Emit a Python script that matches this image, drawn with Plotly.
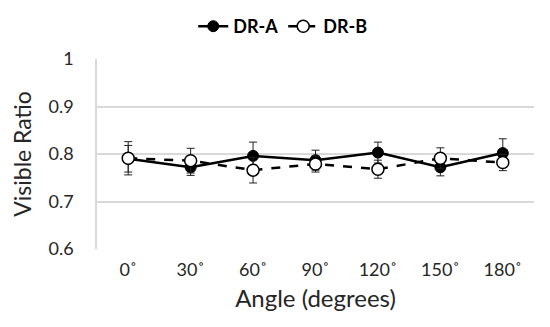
import plotly.graph_objects as go

angles = ["0˚", "30˚", "60˚", "90˚", "120˚", "150˚", "180˚"]
dr_a = [0.790, 0.772, 0.796, 0.787, 0.803, 0.772, 0.802]
dr_a_err = [0.028, 0.017, 0.029, 0.021, 0.022, 0.018, 0.030]
dr_b = [0.791, 0.786, 0.766, 0.779, 0.768, 0.791, 0.782]
dr_b_err = [0.035, 0.026, 0.027, 0.017, 0.019, 0.022, 0.017]

xs = list(range(len(angles)))

fig = go.Figure()
fig.add_trace(go.Scatter(
    x=xs, y=dr_a, name="DR-A", mode="lines+markers",
    line=dict(color="black", width=2.5),
    marker=dict(size=11, color="black", line=dict(color="black", width=1)),
    error_y=dict(type="data", array=dr_a_err, color="#222222", thickness=1, width=4),
))
fig.add_trace(go.Scatter(
    x=xs, y=dr_b, name="DR-B", mode="lines+markers",
    line=dict(color="black", width=2.5, dash="dash"),
    marker=dict(size=12, color="white", line=dict(color="black", width=1.5)),
    error_y=dict(type="data", array=dr_b_err, color="#222222", thickness=1, width=4),
))

fig.update_layout(
    width=542, height=319,
    margin=dict(l=89, r=16, t=51, b=78, autoexpand=False),
    paper_bgcolor="white", plot_bgcolor="white",
    font=dict(family="Lato, Open Sans, sans-serif", size=16, color="#404040"),
    showlegend=True,
    legend=dict(orientation="h", x=0.425, xanchor="center", y=1.0, yanchor="top", yref="container",
                font=dict(size=18, color="black", family="Lato, sans-serif", weight="bold"),
                itemwidth=30, tracegroupgap=0, bgcolor="rgba(0,0,0,0)"),
)
fig.update_xaxes(
    range=[-0.5, 6.5], tickmode="array", tickvals=xs, ticktext=angles,
    showgrid=False, zeroline=False, showline=False, ticks="",
    tickfont=dict(size=18, color="#262626"), ticklabelstandoff=8,
    title=dict(text="Angle (degrees)", font=dict(size=24, color="#262626"), standoff=11),
)
fig.update_yaxes(
    range=[0.6, 1.0], tickvals=[0.6, 0.7, 0.8, 0.9, 1.0], ticktext=["0.6", "0.7", "0.8", "0.9", "1"],
    showgrid=True, gridcolor="#d9d9d9", gridwidth=1.5, zeroline=False,
    showline=True, linecolor="#d9d9d9", linewidth=1.5, ticks="",
    tickfont=dict(size=18, color="#262626"), ticklabelstandoff=18,
    title=dict(text="Visible Ratio", font=dict(size=23, color="#262626"), standoff=12),
)

fig.write_html("out.html")
